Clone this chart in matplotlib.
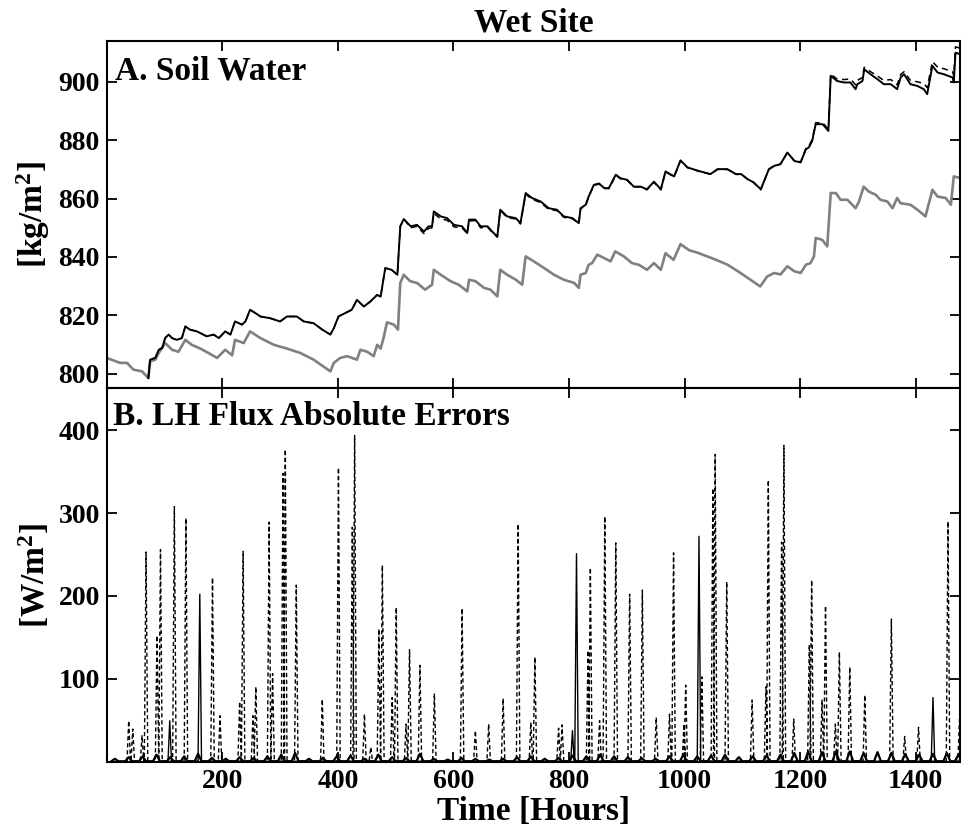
"""
Wet Site: soil water and LH flux absolute errors (two stacked panels)
"""
import numpy as np
import matplotlib
matplotlib.use("Agg")
import matplotlib.pyplot as plt

plt.rcParams['font.family'] = ['Liberation Serif', 'DejaVu Serif']
plt.rcParams['font.weight'] = 'bold'
plt.rcParams['axes.labelweight'] = 'bold'
plt.rcParams['axes.titleweight'] = 'bold'
plt.rcParams['mathtext.fontset'] = 'custom'
plt.rcParams['mathtext.rm'] = 'Liberation Serif:bold'
plt.rcParams['mathtext.it'] = 'Liberation Serif:bold'
plt.rcParams['mathtext.bf'] = 'Liberation Serif:bold'
plt.rcParams['mathtext.default'] = 'rm'

# ---- Panel A: soil water [kg/m2] ----
t_gray = [0, 23, 35, 46, 61, 72, 75, 84, 90, 101, 113, 124, 136, 147, 162, 176, 191,
          205, 217, 222, 237, 248, 266, 289, 312, 335, 358, 387, 393, 404, 416, 433,
          439, 451, 462, 468, 474, 479, 485, 497, 504, 508, 514, 525, 537, 551, 563,
          566, 578, 595, 609, 624, 627, 638, 653, 664, 676, 681, 693, 708, 719, 725,
          739, 757, 774, 791, 809, 817, 820, 829, 834, 840, 849, 861, 872, 880, 895,
          909, 921, 935, 947, 959, 967, 981, 993, 1008, 1022, 1051, 1074, 1097, 1114,
          1131, 1143, 1155, 1166, 1178, 1190, 1201, 1210, 1218, 1224, 1227, 1238,
          1247, 1253, 1262, 1270, 1282, 1296, 1302, 1310, 1319, 1331, 1339, 1351,
          1360, 1368, 1374, 1391, 1403, 1417, 1429, 1438, 1452, 1461, 1466, 1478]
sw_gray = [805.4, 803.7, 803.7, 801.4, 800.8, 798.5, 804.2, 804.8, 807.1, 810.5, 808.2,
           807.5, 811.6, 809.9, 808.6, 807.1, 805.4, 808.2, 806.3, 811.6, 810.5, 814.5,
           812.2, 809.9, 808.6, 807.1, 804.8, 800.8, 803.7, 805.4, 806.0, 804.8, 808.2,
           807.5, 806.0, 809.9, 808.6, 812.2, 817.6, 816.8, 815.1, 831.1, 833.9, 831.7,
           831.1, 828.8, 830.5, 835.6, 833.9, 831.7, 830.5, 828.2, 832.2, 831.7, 829.4,
           828.8, 826.5, 835.6, 833.9, 832.2, 830.5, 840.2, 838.5, 836.2, 833.9, 832.2,
           831.1, 829.4, 833.9, 834.5, 837.3, 837.9, 840.8, 839.6, 838.5, 841.9, 840.2,
           837.9, 837.3, 835.6, 837.9, 835.6, 841.3, 839.0, 844.4, 842.3, 841.5, 839.3,
           837.4, 834.5, 832.2, 829.9, 833.3, 834.5, 834.0, 836.8, 835.1, 834.5, 837.3,
           837.9, 840.2, 846.5, 845.9, 843.6, 861.9, 861.9, 859.6, 859.6, 856.7, 859.0,
           864.1, 862.4, 861.3, 859.6, 859.0, 856.7, 860.2, 858.4, 857.9, 856.2, 853.9,
           863.0, 860.7, 860.2, 857.9, 867.6, 867.0]

t_black = [72, 75, 84, 90, 96, 101, 107, 113, 121, 130, 136, 144, 156, 173, 185, 194,
           205, 214, 222, 234, 240, 248, 257, 266, 283, 300, 312, 329, 341, 358, 373,
           387, 393, 401, 413, 424, 433, 445, 456, 468, 474, 482, 493, 503, 508, 514,
           526, 537, 549, 557, 563, 566, 578, 589, 601, 615, 624, 627, 638, 647, 659,
           667, 676, 681, 693, 708, 716, 725, 736, 751, 765, 779, 791, 806, 817, 820,
           829, 834, 843, 852, 861, 869, 881, 889, 901, 912, 924, 935, 947, 959, 967,
           982, 993, 1005, 1024, 1045, 1057, 1074, 1089, 1098, 1109, 1120, 1132, 1140,
           1146, 1155, 1166, 1178, 1190, 1201, 1210, 1215, 1221, 1227, 1239, 1249,
           1253, 1264, 1276, 1287, 1296, 1299, 1308, 1311, 1322, 1334, 1345, 1357,
           1368, 1374, 1380, 1391, 1403, 1414, 1420, 1429, 1438, 1449, 1464, 1466,
           1469, 1478]
sw_solid = [798.5, 804.8, 805.4, 808.2, 808.8, 812.2, 813.4, 812.2, 811.6, 812.2, 816.2,
            815.1, 814.5, 812.8, 813.4, 812.2, 814.5, 813.4, 817.9, 816.8, 817.9, 821.9,
            820.8, 819.6, 819.0, 817.9, 819.6, 819.6, 817.9, 817.3, 815.1, 813.4, 815.6,
            819.6, 820.8, 821.9, 825.3, 823.0, 824.7, 827.0, 826.4, 836.2, 835.6, 833.9,
            850.5, 853.0, 850.5, 851.0, 848.7, 850.5, 850.5, 855.6, 853.9, 853.3, 851.0,
            850.5, 848.2, 852.8, 852.8, 850.5, 850.5, 848.7, 847.0, 856.2, 853.9, 853.3,
            851.6, 861.9, 860.2, 859.0, 856.7, 856.2, 853.9, 853.3, 851.6, 856.7, 857.9,
            860.7, 864.7, 865.2, 863.6, 863.6, 868.2, 867.0, 866.4, 864.1, 864.1, 863.2,
            865.8, 863.2, 869.3, 867.6, 873.1, 870.7, 869.5, 868.4, 870.1, 870.1, 868.4,
            868.4, 866.7, 865.5, 863.2, 867.2, 870.1, 871.2, 871.8, 875.8, 872.9, 872.4,
            876.9, 877.5, 879.8, 885.5, 885.5, 883.2, 902.1, 900.3, 899.8, 899.8, 897.5,
            899.2, 900.3, 904.3, 902.6, 900.9, 899.2, 899.2, 897.5, 901.5, 902.6, 899.2,
            898.6, 897.5, 895.8, 905.5, 903.2, 902.6, 901.5, 899.8, 910.0, 909.4]
sw_dash = [798.5, 804.8, 805.4, 808.2, 808.8, 812.2, 813.4, 812.2, 811.6, 812.2, 816.2,
           815.1, 814.5, 812.8, 813.4, 812.2, 814.5, 813.4, 817.9, 816.8, 817.9, 821.9,
           820.8, 819.6, 819.0, 817.9, 819.6, 819.6, 817.9, 817.3, 815.1, 813.4, 815.6,
           819.6, 820.8, 821.9, 825.3, 823.0, 824.7, 827.0, 826.4, 836.2, 835.6, 833.9,
           850.5, 853.0, 850.0, 850.5, 848.0, 849.8, 850.0, 855.0, 853.0, 852.6, 850.3,
           850.0, 848.0, 852.3, 852.5, 850.0, 850.2, 848.5, 846.8, 856.0, 853.5, 853.0,
           851.3, 861.5, 859.8, 858.6, 856.3, 855.9, 853.6, 853.1, 851.4, 856.5, 857.7,
           860.5, 864.5, 865.0, 863.5, 863.4, 868.0, 866.8, 866.2, 864.0, 864.0, 863.0,
           865.6, 863.0, 869.1, 867.5, 873.0, 870.6, 869.4, 868.3, 870.0, 870.0, 868.3,
           868.3, 866.6, 865.4, 863.0, 867.0, 870.0, 871.2, 871.8, 875.8, 873.0, 872.6,
           877.2, 877.9, 880.3, 886.0, 886.0, 883.8, 902.6, 901.0, 900.8, 901.0, 899.0,
           900.5, 901.5, 905.0, 903.5, 902.0, 900.5, 900.8, 899.0, 902.5, 903.5, 900.5,
           900.0, 899.5, 898.0, 907.0, 905.0, 904.5, 903.5, 902.0, 912.0, 911.5]

# ---- Panel B: LH flux absolute errors [W/m2] ----
# peak hour and peak error for the dashed series
spk_t_dash = [38, 45, 61, 68, 87, 93, 117, 137, 183, 196, 230, 236, 253, 258, 281, 287,
              305, 309, 328, 373, 401, 425, 429, 446, 457, 471, 477, 494, 501, 518, 524,
              542, 567, 615, 638, 661, 686, 712, 734, 741, 782, 788, 833, 837, 853, 862,
              881, 905, 927, 951, 974, 981, 999, 1002, 1030, 1049, 1053, 1073, 1117, 1141,
              1145, 1168, 1172, 1189, 1216, 1220, 1238, 1244, 1261, 1268, 1286, 1312,
              1358, 1381, 1405, 1456, 1476]
spk_h_dash = [49, 39, 31, 253, 152, 256, 308, 294, 222, 55, 72, 254, 55, 90, 289, 106,
              348, 377, 213, 75, 355, 283, 394, 57, 17, 160, 237, 77, 186, 45, 135,
              116, 82, 185, 37, 45, 76, 287, 47, 126, 40, 44, 134, 234, 49, 296,
              264, 202, 207, 53, 57, 252, 45, 92, 102, 330, 371, 217, 74, 90,
              340, 265, 382, 51, 141, 219, 74, 188, 45, 132, 114, 80,
              172, 30, 41, 290, 51]
# solid series: a few large spikes
spk_t_solid = [109, 161, 806, 813, 1025, 1430]
spk_h_solid = [49, 202, 37, 251, 272, 77]
# solid series: small daily bumps near zero
bump_t = [14, 38, 62, 86, 110, 134, 158, 182, 206, 230, 254, 278, 302, 326, 350, 374,
          398, 422, 446, 470, 494, 518, 542, 566, 590, 614, 638, 662, 686, 710, 734,
          758, 782, 806, 830, 854, 878, 902, 926, 950, 974, 998, 1022, 1046, 1070,
          1094, 1118, 1142, 1166, 1190, 1214, 1238, 1262, 1286, 1310, 1334, 1358,
          1382, 1406, 1430, 1454, 1474]
bump_h = [3, 5, 6, 8, 5, 6, 9, 4, 3, 5, 4, 6, 8, 10, 3, 4, 6, 7, 3, 8, 5, 4, 9, 3, 2, 4,
          3, 2, 3, 5, 6, 3, 4, 7, 6, 8, 6, 5, 4, 3, 6, 8, 6, 7, 8, 5, 6, 7, 8, 10, 12,
          11, 12, 12, 10, 11, 10, 9, 8, 9, 10, 8]

xticks = [200, 400, 600, 800, 1000, 1200, 1400]
yticks_a = [800, 820, 840, 860, 880, 900]
yticks_b = [100, 200, 300, 400]


def spike_line(times, heights, half):
    xs, ys = [], []
    for t, h in sorted(zip(times, heights)):
        xs += [t - half, t, t + half]
        ys += [0, h, 0]
    return xs, ys


def style_axis(ax):
    for sp in ax.spines.values():
        sp.set_linewidth(1.5)
    ax.tick_params(direction='in', length=7, width=1.3, top=True, right=True,
                   labelsize=20, pad=5)
    ax.set_xticks(xticks)
    ax.set_xlim(0, 1477)


fig = plt.figure(figsize=(9.61, 8.27), dpi=100)
ax1 = fig.add_axes([0.1111, 0.5305, 0.8880, 0.4199])
ax2 = fig.add_axes([0.1111, 0.0785, 0.8880, 0.4520])

# panel A
ax1.plot(t_gray, sw_gray, color='#808080', lw=1.9)
ax1.plot(t_black, sw_solid, color='black', lw=1.4)
ax1.plot(t_black, sw_dash, color='black', lw=1.1, ls=(0, (4, 3)))
style_axis(ax1)
ax1.set_ylim(795, 914)
ax1.set_yticks(yticks_a)
ax1.tick_params(labelbottom=False)
ax1.set_ylabel('[kg/m$^2$]', fontsize=24, fontweight='bold')
ax1.yaxis.set_label_coords(-0.064, 0.5)
ax1.text(0.0096, 0.8905, 'A. Soil Water', transform=ax1.transAxes, fontsize=24,
         va='baseline', ha='left', fontweight='bold')
ax1.set_title('Wet Site', fontsize=24, fontweight='bold', pad=7)

# panel B
xb, yb = spike_line(bump_t, bump_h, 6)
ax2.plot(xb, yb, color='black', lw=1.6)
xs, ys = spike_line(spk_t_solid, spk_h_solid, 3)
ax2.plot(xs, ys, color='black', lw=1.0)
xd, yd = spike_line(spk_t_dash, spk_h_dash, 3)
ax2.plot(xd, yd, color='black', lw=1.0, ls=(0, (3, 2)))
style_axis(ax2)
ax2.set_ylim(-1, 451)
ax2.set_yticks(yticks_b)
ax2.set_ylabel('[W/m$^2$]', fontsize=24, fontweight='bold')
ax2.yaxis.set_label_coords(-0.064, 0.5)
ax2.set_xlabel('Time [Hours]', fontsize=24, fontweight='bold')
ax2.xaxis.set_label_coords(0.5, -0.09)
ax2.text(0.0076, 0.901, 'B. LH Flux Absolute Errors', transform=ax2.transAxes,
         fontsize=24, va='baseline', ha='left', fontweight='bold')

for lab in ax1.get_yticklabels() + ax2.get_yticklabels() + ax2.get_xticklabels():
    lab.set_fontweight('bold')

fig.savefig('out.png', dpi=100)
